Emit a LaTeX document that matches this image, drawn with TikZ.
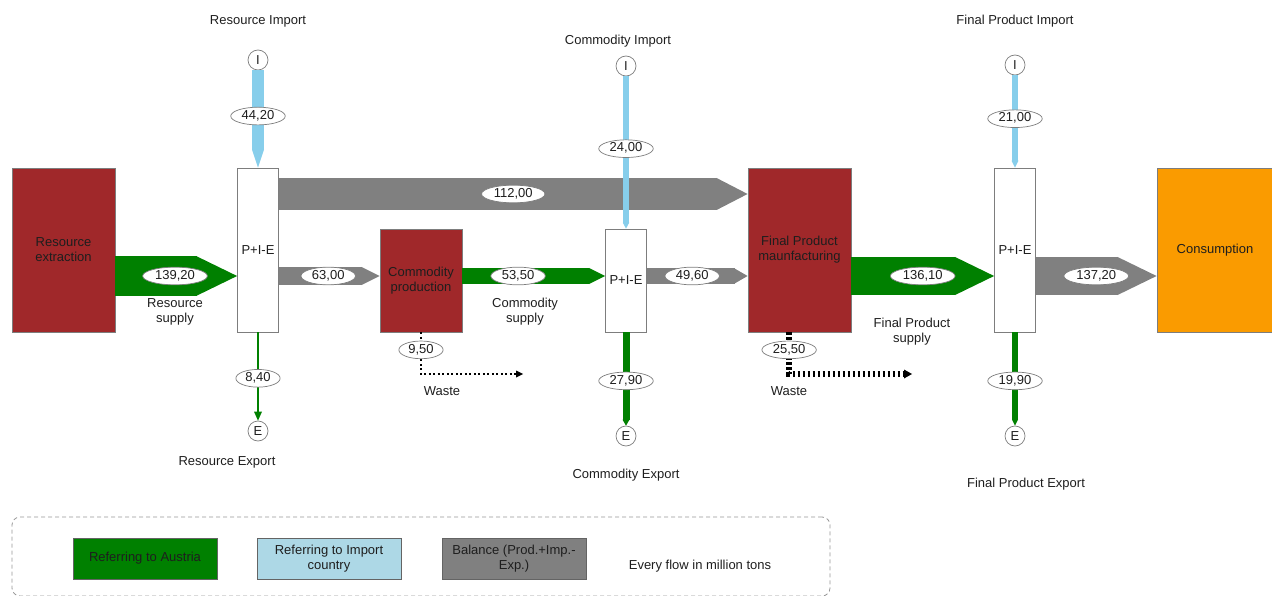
\documentclass[tikz,border=0pt]{standalone}
\usepackage{fontspec}
\setmainfont{Liberation Sans}
\usetikzlibrary{arrows.meta,shapes.geometric,calc}

\definecolor{procred}{RGB}{160,40,42}
\definecolor{austria}{RGB}{0,128,0}
\definecolor{importblue}{RGB}{135,206,235}
\definecolor{legendblue}{RGB}{173,216,230}
\definecolor{balance}{RGB}{128,128,128}
\definecolor{consorange}{RGB}{250,155,0}
\definecolor{inkgrey}{RGB}{30,30,30}
\definecolor{framegrey}{RGB}{125,125,125}

\begin{document}
\begin{tikzpicture}[x=1pt,y=-1pt,
  every node/.style={font=\fontsize{13}{15}\selectfont, text=inkgrey},
  process/.style={draw=framegrey, line width=0.8pt, fill=procred, align=center, inner sep=0pt},
  balancebox/.style={draw=framegrey, line width=0.8pt, fill=white, minimum width=41pt, inner sep=0pt},
  value/.style={ellipse, solid, draw=framegrey, fill=white, line width=0.7pt, inner xsep=3pt, inner ysep=0pt,
                text height=9.5pt, text depth=3pt},
  port/.style={circle, draw=framegrey, fill=white, line width=0.7pt, minimum size=20pt, inner sep=0pt},
  caption/.style={align=center},
  flow/.style n args={4}{draw=#1, line width=#2,
                         -{Triangle[length=#3, width=#4, line width=0pt, fill=#1]}},
  wastethin/.style={draw=black, line width=2pt, dash pattern=on 2pt off 2.5pt,
                    -{Triangle[length=7pt, width=7pt, line width=0pt]}},
  wastethick/.style={draw=black, line width=6pt, dash pattern=on 2.5pt off 2.5pt,
                     -{Triangle[length=8pt, width=9pt, line width=0pt]}},
  legendframe/.style={draw=framegrey!80, line width=0.8pt, dash pattern=on 4pt off 3pt,
                      rounded corners=8pt, inner sep=0pt},
  legendkey/.style={draw=framegrey!80!black, line width=0.8pt, align=center,
                    minimum width=144pt, minimum height=41pt, inner sep=0pt}
]
\useasboundingbox (0,0) rectangle (1272,596);

% process and balance boxes
\node[process, minimum width=103pt, minimum height=164pt] (rx) at (63.5,250) {Resource\\extraction};
\node[balancebox, minimum height=164pt] (pie1) at (258,250) {P+I-E};
\node[process, minimum width=82pt, minimum height=103pt] (cp) at (421,280.5) {Commodity\\production};
\node[balancebox, minimum height=103pt] (pie2) at (626,280.5) {P+I-E};
\node[process, minimum width=103pt, minimum height=164pt] (fp) at (799.5,250) {Final Product\\maunfacturing};
\node[balancebox, minimum height=164pt] (pie3) at (1015,250) {P+I-E};
\node[process, fill=consorange, minimum width=116pt, minimum height=164pt] (cons) at (1215,250) {Consumption};

% flow levels
\coordinate (lvl) at (0,276);
\coordinate (upper) at (0,194);

% import and export ports
\node[port] (imp1) at (258,60) {I};
\node[port] (imp2) at (626,66) {I};
\node[port] (imp3) at (1015,65) {I};
\node[port] (exp1) at (258,431) {E};
\node[port] (exp2) at (626,436) {E};
\node[port] (exp3) at (1015,436) {E};

% captions
\node[caption] (cap-ri) at (258,21) {Resource Import};
\node[caption] (cap-ci) at (618,41) {Commodity Import};
\node[caption] (cap-fi) at (1015,21) {Final Product Import};
\node[caption] (cap-re) at (227,462) {Resource Export};
\node[caption] (cap-ce) at (626,475) {Commodity Export};
\node[caption] (cap-fe) at (1026,484) {Final Product Export};
\node[caption] (cap-rs) at (175,311.5) {Resource\\supply};
\node[caption] (cap-cs) at (525,311.5) {Commodity\\supply};
\node[caption] (cap-fs) at (912,332) {Final Product\\supply};
\node[caption] (cap-w1) at (442,391) {Waste};
\node[caption] (cap-w2) at (789,391) {Waste};

% domestic production flows
\draw[flow={austria}{39pt}{40pt}{39pt}] (rx.east |- lvl) -- node[value, pos=0.49] {139,20} (pie1.west |- lvl);
\draw[flow={austria}{16pt}{16pt}{16pt}] (cp.east |- lvl) -- node[value, pos=0.39] {53,50} (pie2.west |- lvl);
\draw[flow={austria}{38pt}{39pt}{38pt}] (fp.east |- lvl) -- node[value, pos=0.5] {136,10} (pie3.west |- lvl);

% balance flows
\draw[flow={balance}{32pt}{31pt}{32pt}] (pie1.east |- upper) -- node[value, pos=0.5] {112,00} (fp.west |- upper);
\draw[flow={balance}{18pt}{18pt}{18pt}] (pie1.east |- lvl) -- node[value, pos=0.49] {63,00} (cp.west |- lvl);
\draw[flow={balance}{15pt}{13pt}{15pt}] (pie2.east |- lvl) -- node[value, pos=0.45] {49,60} (fp.west |- lvl);
\draw[flow={balance}{38pt}{39pt}{38pt}] (pie3.east |- lvl) -- node[value, pos=0.5] {137,20} (cons.west |- lvl);

% imports
\draw[flow={importblue}{12pt}{18pt}{12pt}] (imp1) -- node[value, pos=0.47] {44,20} (pie1.north);
\draw[flow={importblue}{6.5pt}{6pt}{6.5pt}] (imp2) -- node[value, pos=0.475] {24,00} (pie2.north);
\draw[flow={importblue}{5.5pt}{7pt}{7pt}] (imp3) -- node[value, pos=0.47] {21,00} (pie3.north);

% exports
\draw[flow={austria}{2.3pt}{9pt}{8pt}] (pie1.south) -- node[value, pos=0.52] {8,40} (exp1);
\draw[flow={austria}{7pt}{6pt}{7pt}] (pie2.south) -- node[value, pos=0.52] {27,90} (exp2);
\draw[flow={austria}{6pt}{6pt}{6pt}] (pie3.south) -- node[value, pos=0.52] {19,90} (exp3);

% waste
\coordinate (w1end) at (523,374);
\coordinate (w2end) at (912,374);
\draw[wastethin] (cp.south) |- node[value, pos=0.21] {9,50} (w1end);
\draw[wastethick] ($(fp.south west)!0.4!(fp.south east)$) |- node[value, pos=0.21] {25,50} (w2end);

% legend
\node[legendframe, minimum width=818pt, minimum height=79pt] (legend) at (421,556.5) {};
\node[legendkey, fill=austria] (key-at) at (145,558.5) {Referring to Austria};
\node[legendkey, fill=legendblue] (key-imp) at (329,558.5) {Referring to Import\\country};
\node[legendkey, fill=balance] (key-bal) at (514,558.5) {Balance (Prod.+Imp.-\\Exp.)};
\node[caption] (unit) at (700,566) {Every flow in million tons};
\end{tikzpicture}
\end{document}
